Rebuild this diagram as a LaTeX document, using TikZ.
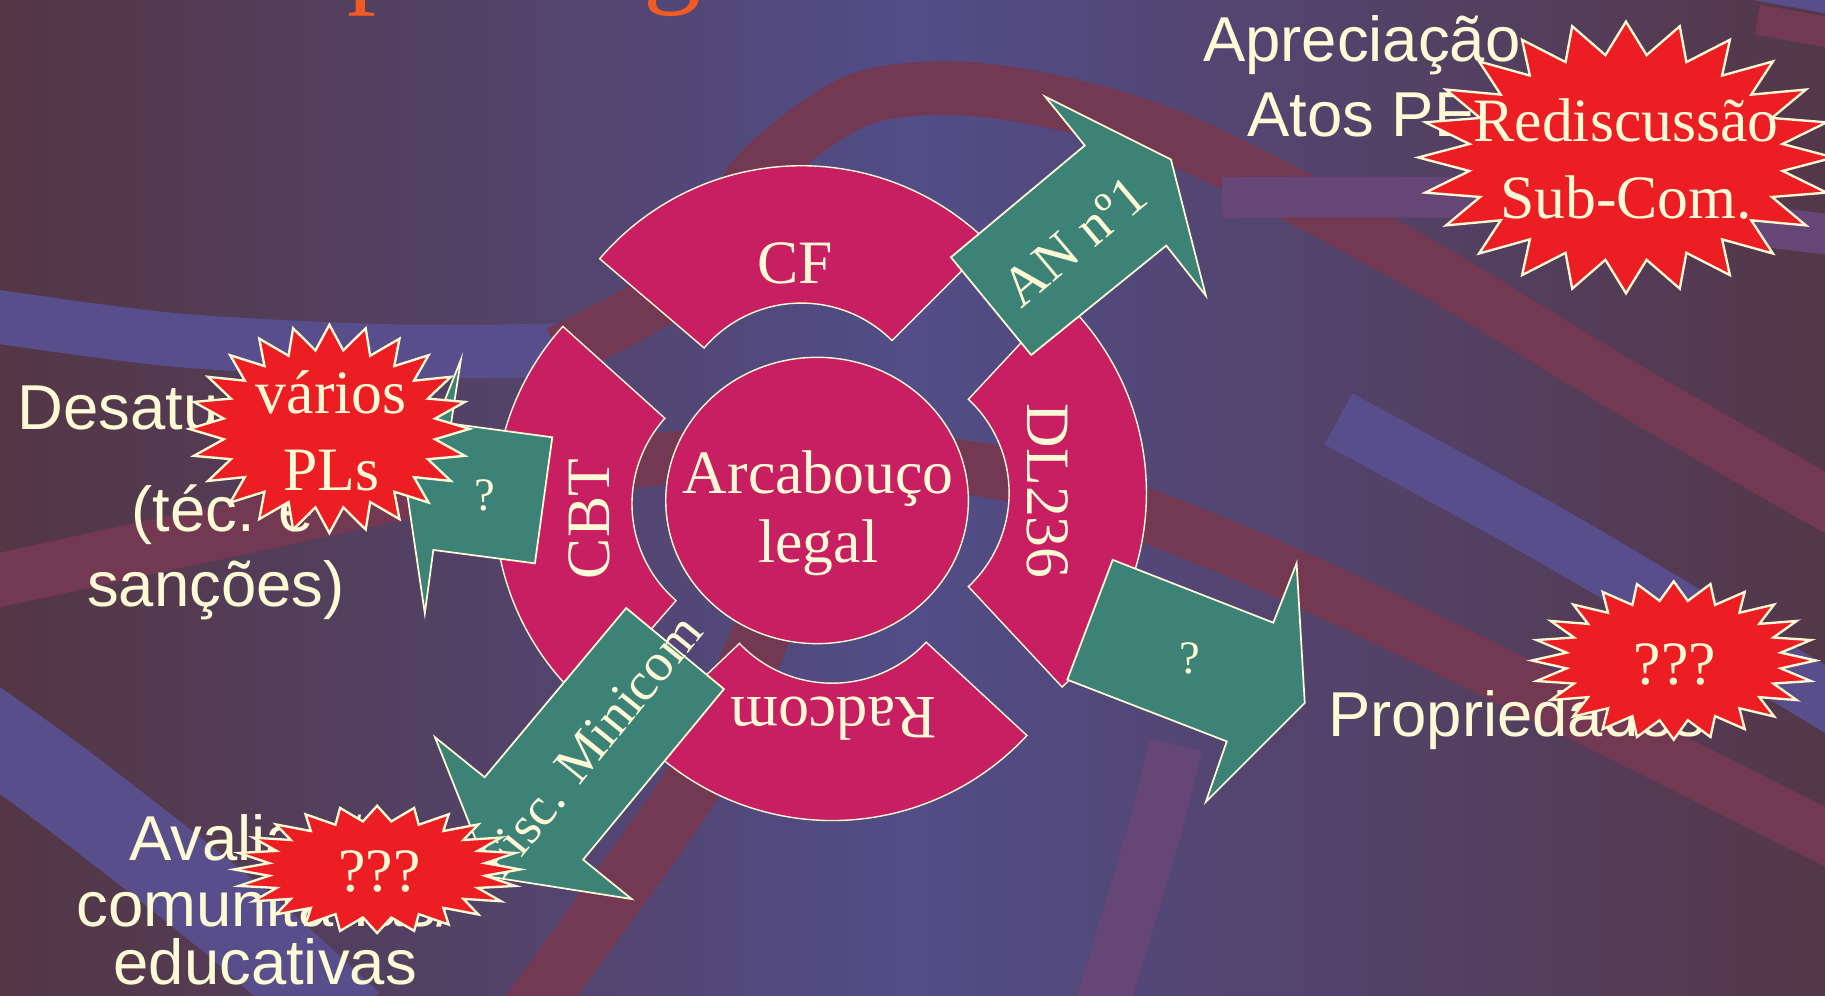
\documentclass[tikz,border=0pt]{standalone}
\usepackage{fontspec}
\setmainfont{Liberation Serif}
\setsansfont{Liberation Sans}
\usetikzlibrary{shapes.geometric}

\definecolor{bgleft}{RGB}{84,54,68}
\definecolor{bgmid}{RGB}{82,77,136}
\definecolor{bgright}{RGB}{84,55,72}
\definecolor{bandlight}{RGB}{88,78,140}
\definecolor{bandmauve}{RGB}{102,70,118}
\definecolor{bandred}{RGB}{115,56,82}
\definecolor{segpink}{RGB}{200,30,98}
\definecolor{arrowteal}{RGB}{60,130,118}
\definecolor{burstred}{RGB}{237,29,36}
\definecolor{cream}{RGB}{255,250,214}
\definecolor{titleorange}{RGB}{240,90,35}

\tikzset{
  seg/.style={fill=segpink, draw=cream, line width=1.2pt},
  blockarrow/.style={fill=arrowteal, draw=cream, line width=1.5pt, line join=miter},
  burst/.style={fill=burstred, draw=cream, line width=2pt, line join=miter, miter limit=20},
  lbl/.style={text=cream, inner sep=0pt, font=\fontsize{53}{60}\selectfont},
  side/.style={text=cream, inner sep=0pt, font=\sffamily\fontsize{54.5}{62}\selectfont},
  band/.style={line width=46pt, line cap=butt},
}

% 24-point burst: centre x, centre y, x radius, y radius
\newcommand{\burst}[4]{%
  \draw[burst] plot[samples at={0,...,47}, variable=\k]
    ({#1+#3*cos(90+7.5*\k)*(1-0.24*mod(\k,2))}, {#2+#4*sin(90+7.5*\k)*(1-0.24*mod(\k,2))}) -- cycle;}

\begin{document}
\begin{tikzpicture}[x=1pt, y=1pt]

  \useasboundingbox (0,0) rectangle (1568,855);
  \clip (0,0) rectangle (1568,855);

  % background
  \shade[left color=bgleft, right color=bgright, middle color=bgmid] (0,0) rectangle (1568,855);

  \draw[band, bandlight] plot[smooth] coordinates {(-30,587) (150,563) (350,553) (520,555)};
  \draw[band, bandred] plot[smooth] coordinates {(480,552) (600,620) (650,705) (740,770) (850,777) (1000,740) (1200,640) (1400,520) (1600,405)};
  \draw[band, bandred] plot[smooth] coordinates {(-30,350) (200,400) (450,450) (700,465) (900,440) (1100,365) (1350,245) (1600,120)};
  \draw[band, bandred, line width=50pt] plot[smooth] coordinates {(700,435) (650,301) (600,190) (520,75) (455,-15)};
  \draw[band, bandmauve] plot[smooth] coordinates {(945,-15) (990,135) (1010,215)};
  \draw[band, bandlight, line width=75pt] plot[smooth] coordinates {(-30,240) (60,175) (200,65) (300,-25)};
  \draw[band, bandmauve, line width=35pt] plot[smooth] coordinates {(1050,685) (1300,683) (1600,650)};
  \draw[band, bandlight, line width=50pt] plot[smooth] coordinates {(1150,495) (1350,385) (1600,235)};
  \draw[band, bandlight, line width=24pt] plot[smooth] coordinates {(1480,872) (1600,850)};
  \draw[band, bandred, line width=26pt] plot[smooth] coordinates {(1510,838) (1600,822)};

  % title (cut by the top edge)
  \node[anchor=base west, inner sep=0pt, text=titleorange, font=\fontsize{100}{100}\selectfont] (tp) at (298,862) {p};
  \node[anchor=base west, inner sep=0pt, text=titleorange, font=\fontsize{100}{100}\selectfont] (tg) at (553,862) {g};

  % ring segments
  \path[seg, shift={(688.6,484.6)}] (45:228) arc[start angle=45, end angle=139.5, radius=228]
    -- (139.5:110) arc[start angle=139.5, end angle=45, radius=110] -- cycle;
  \path[seg, shift={(653,422)}] (138:228) arc[start angle=138, end angle=229, radius=228]
    -- (229:110) arc[start angle=229, end angle=138, radius=110] -- cycle;
  \path[seg, shift={(757,431.5)}] (-47:228) arc[start angle=-47, end angle=47, radius=228]
    -- (47:110) arc[start angle=47, end angle=-47, radius=110] -- cycle;
  \path[seg, shift={(715,378)}] (223.6:228) arc[start angle=223.6, end angle=317.2, radius=228]
    -- (317.2:110) arc[start angle=317.2, end angle=223.6, radius=110] -- cycle;
  \path[seg] (702,425) ellipse[x radius=130, y radius=123];

  \node[lbl, anchor=base] (cf) at (683,611.6) {CF};
  \node[lbl, rotate=90] (cbt) at (506.5,409) {CBT};
  \node[lbl, rotate=-90] (dl) at (900,433) {DL236};
  \node[lbl, rotate=180] (radcom) at (716,238) {Radcom};
  \node[lbl, anchor=base] (arcab) at (703,431.3) {Arcabouço};
  \node[lbl, anchor=base] (legal) at (703,372) {legal};

  % block arrows
  \draw[blockarrow] (817,634) -- (932,730) -- (898,772) -- (1006,718) -- (1036,601) -- (1002,644) -- (886,550) -- cycle;
  \draw[blockarrow] (956,374) -- (1094,320) -- (1114,371) -- (1121,251) -- (1036,166) -- (1054,218) -- (917,271) -- cycle;
  \draw[blockarrow] (474.5,479.3) -- (387.5,491) -- (396,546) -- (350,430) -- (365,328) -- (372.3,382.5) -- (459.6,371) -- cycle;
  \draw[blockarrow] (538,332.6) -- (622,263) -- (501,116.4) -- (542.7,82.6) -- (421.5,101.6) -- (373.7,221.6) -- (416.4,187.2) -- cycle;

  \node[lbl, font=\fontsize{48}{56}\selectfont, rotate=40] (an) at (923,648) {AN nº1};
  \node[lbl, font=\fontsize{46.5}{54}\selectfont, rotate=51] (fisc) at (507,214) {Fisc. Minicom};
  \node[lbl, font=\fontsize{40}{48}\selectfont] (qright) at (1022.5,289.5) {?};
  \node[lbl, font=\fontsize{40}{48}\selectfont] (qleft) at (416.7,429.7) {?};

  % side texts
  \node[side, anchor=base] (apre) at (1170,802) {Apreciação};
  \node[side, anchor=base] (atos) at (1170,737.6) {Atos PE};
  \node[side, anchor=base west] (desat) at (15,486) {Desatu};
  \node[side, anchor=base west] (tec) at (113,398.2) {(téc. e};
  \node[side, anchor=base] (sanc) at (185.4,333.8) {sanções)};
  \node[side, anchor=base west] (aval) at (111,116) {Avaliação};
  \node[side, anchor=base] (comun) at (227.8,59) {comunitárias/};
  \node[side, anchor=base] (educ) at (227.8,9) {educativas};
  \node[side, anchor=base west] (prop) at (1141,222.1) {Propriedades};

  % bursts
  \burst{1397}{719.7}{178.5}{116.7}
  \burst{1438}{287.5}{122}{68}
  \burst{324}{108}{123}{54.7}
  \burst{283}{486.5}{120.5}{89.5}

  \node[lbl, anchor=base] (redisc) at (1397,733.3) {Rediscussão};
  \node[lbl, anchor=base] (subcom) at (1397,667.4) {Sub-Com.};
  \node[lbl, anchor=base] (varios) at (284.6,500) {vários};
  \node[lbl, anchor=base] (pls) at (284.6,434) {PLs};
  \node[lbl, anchor=base] (qqright) at (1439,266.5) {???};
  \node[lbl, anchor=base] (qqleft) at (326,89) {???};

\end{tikzpicture}
\end{document}
